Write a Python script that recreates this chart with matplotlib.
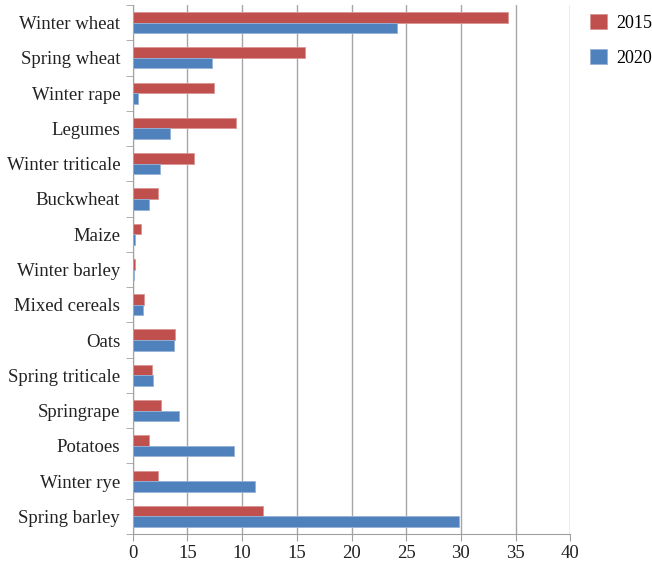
import matplotlib.pyplot as plt
import numpy as np

crops = ["Winter wheat", "Spring wheat", "Winter rape", "Legumes", "Winter triticale",
         "Buckwheat", "Maize", "Winter barley", "Mixed cereals", "Oats",
         "Spring triticale", "Springrape", "Potatoes", "Winter rye", "Spring barley"]
val_2015 = [34.3, 15.75, 7.43, 9.41, 5.63, 2.28, 0.76, 0.24, 1.03, 3.84,
            1.76, 2.56, 1.49, 2.31, 11.94]
val_2020 = [24.2, 7.28, 0.52, 3.41, 2.53, 1.46, 0.24, 0.09, 0.97, 3.78,
            1.83, 4.26, 9.23, 11.21, 29.83]
xticks = [0, 5, 10, 15, 20, 25, 30, 35, 40]
xtick_labels = ["0", "15", "10", "15", "20", "25", "30", "35", "40"]

plt.rcParams['font.family'] = ['Liberation Serif', 'DejaVu Serif']

fig = plt.figure(figsize=(6.52, 5.64), dpi=100)
ax = fig.add_axes([132.7 / 652, 30 / 564, (570.3 - 132.7) / 652, (559 - 30) / 564])

n = len(crops)
pos = np.arange(n)[::-1]  # first crop on top
h = 0.3
ax.barh(pos + h / 2, val_2015, height=h, color="#C0504D", edgecolor="#D99694",
        linewidth=0.6, label="2015", zorder=3)
ax.barh(pos - h / 2, val_2020, height=h, color="#4F81BD", edgecolor="#95B3D7",
        linewidth=0.6, label="2020", zorder=3)

ax.set_xlim(0, 40)
ax.set_ylim(-0.5, n - 0.5)
ax.set_xticks(xticks)
ax.set_xticklabels(xtick_labels, fontsize=13.5)
ax.set_yticks(pos)
ax.set_yticklabels(crops, fontsize=13.5)
ax.set_yticks(np.arange(n + 1) - 0.5, minor=True)
ax.tick_params(axis="y", which="major", length=0, pad=9, colors="#222222")
ax.tick_params(axis="y", which="minor", length=5, color="#a0a0a0")
ax.tick_params(axis="x", length=5, color="#a0a0a0", colors="#222222", pad=3)

ax.grid(axis="x", color="#a6a6a6", linewidth=1.0, zorder=0)
for s in ["top", "right"]:
    ax.spines[s].set_visible(False)
for s in ["left", "bottom"]:
    ax.spines[s].set_color("#a0a0a0")

leg = fig.legend(loc="upper left", bbox_to_anchor=(577 / 652, 1 - 1 / 564),
                 frameon=False, fontsize=13, handlelength=0.95, handleheight=0.95,
                 labelspacing=0.95, handletextpad=0.5, borderaxespad=0.3)

fig.savefig("out.png", dpi=100)
